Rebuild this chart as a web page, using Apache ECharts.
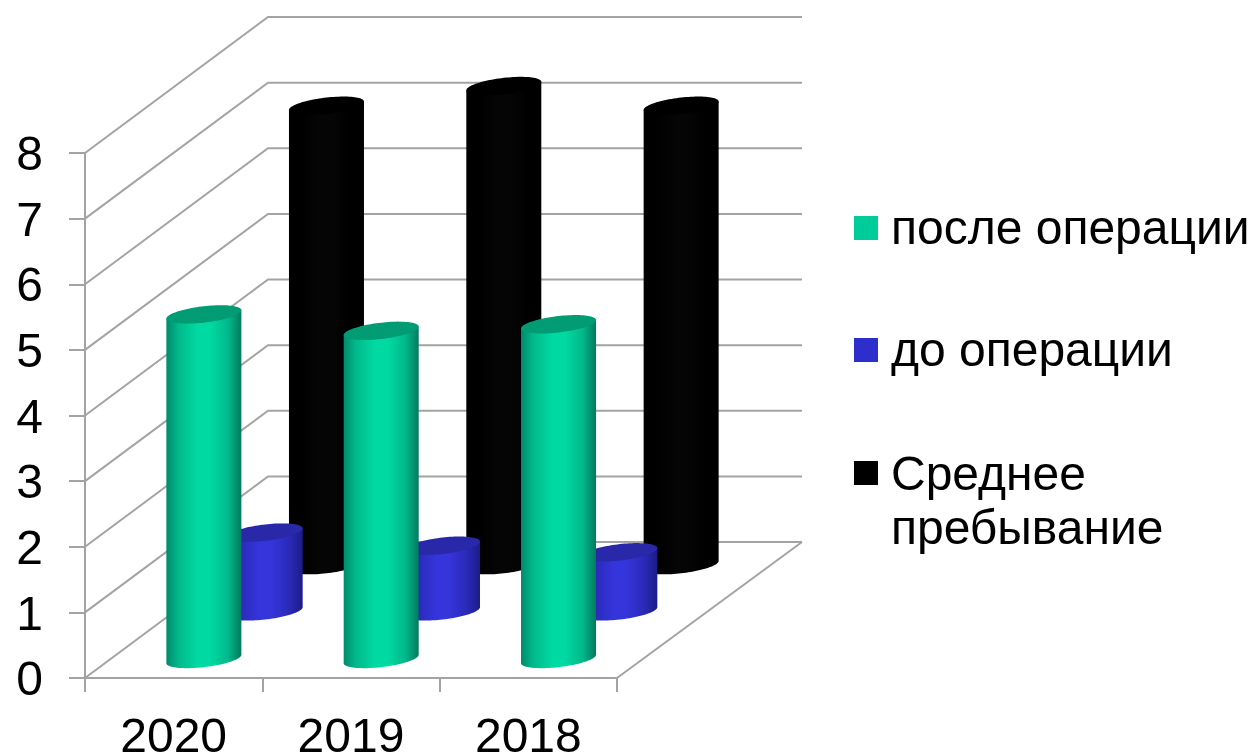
<!DOCTYPE html>
<html>
<head>
<meta charset="utf-8">
<style>html,body{margin:0;padding:0;background:#fff}#c{width:1254px;height:756px}</style>
<script src="https://cdn.jsdelivr.net/npm/echarts@6/dist/echarts.min.js"></script>
</head>
<body>
<div id="c"></div>
<script>
var categories = ['2020', '2019', '2018'];
var valueTicks = [0, 1, 2, 3, 4, 5, 6, 7, 8];
var afterSurgery = [5.25, 5.0, 5.1];
var beforeSurgery = [1.2, 1.0, 0.9];
var averageStay = [7.0, 7.3, 7.0];

var FONT = '"Liberation Sans", Arial, sans-serif';
var GRID = '#a3a3a3';
var DEPTH_X = 183, DEPTH_Y = -136;
var chart = echarts.init(document.getElementById('c'));

function wallItem(params, api) {
  var p = api.coord([0, api.value(1)]);
  var band = api.size([1, 0])[0];
  var x0 = p[0] - band / 2, y0 = p[1];
  var xEnd = x0 + band * 3 + DEPTH_X + 2;
  var style = { stroke: GRID, lineWidth: 2, fill: null };
  var children = [{
    type: 'polyline',
    shape: { points: [[x0, y0], [x0 + DEPTH_X, y0 + DEPTH_Y], [xEnd, y0 + DEPTH_Y]] },
    style: style
  }];
  if (api.value(1) === 0) {
    children.push({
      type: 'line',
      shape: { x1: x0 + band * 3, y1: y0, x2: xEnd, y2: y0 + DEPTH_Y },
      style: style
    });
  }
  return { type: 'group', children: children };
}

function cylinder(depthX, depthY, body, cap) {
  return function (params, api) {
    var i = api.value(0), v = api.value(1);
    var base = api.coord([i, 0]), top = api.coord([i, v]);
    var cx = base[0] + depthX * DEPTH_X;
    var by = base[1] + depthY * DEPTH_Y;
    var ty = top[1] + depthY * DEPTH_Y;
    var rx = 37.5, ry = 8.2, shear = -4.2 / 37.5;
    var pt = function (y, t) {
      return [cx + rx * Math.cos(t), y + shear * rx * Math.cos(t) + ry * Math.sin(t)];
    };
    var side = [], capPts = [], k, n = 48;
    side.push(pt(ty, 0));
    for (k = 0; k <= n; k++) side.push(pt(by, Math.PI * k / n));
    side.push(pt(ty, Math.PI));
    for (k = 0; k < n * 2; k++) capPts.push(pt(ty, Math.PI * k / n));
    return {
      type: 'group',
      children: [
        { type: 'polygon', shape: { points: side }, style: {
          fill: new echarts.graphic.LinearGradient(0, 0, 1, 0, body) } },
        { type: 'polygon', shape: { points: capPts }, style: { fill: cap } }
      ]
    };
  };
}

function stops(edgeL, mid, center, edgeR) {
  return [
    { offset: 0, color: edgeL }, { offset: 0.16, color: mid },
    { offset: 0.42, color: center }, { offset: 0.58, color: center },
    { offset: 0.82, color: mid }, { offset: 1, color: edgeR }
  ];
}

function row(values) { return values.map(function (v, i) { return [i, v]; }); }

function legendItem(name, top, itemHeight) {
  return {
    data: [name], orient: 'vertical', left: 854, top: top, padding: 0,
    selectedMode: false, itemWidth: 24, itemHeight: itemHeight,
    icon: 'path://M0 0H24V24H0ZM0 ' + itemHeight + 'L0 ' + itemHeight + 'L24 ' + itemHeight,
    symbolKeepAspect: false,
    textStyle: { fontFamily: FONT, fontSize: 48, color: '#000', lineHeight: 54, padding: [0, 0, 0, 8] }
  };
}

chart.setOption({
  animation: false,
  backgroundColor: '#fff',
  grid: { left: 85, top: 153, width: 532, height: 525, outerBoundsMode: 'none' },
  legend: [
    legendItem('после операции', 204, 30),
    legendItem('до операции', 326, 30),
    legendItem('Среднее\nпребывание', 450, 86)
  ],
  xAxis: {
    type: 'category', data: categories,
    axisLine: { lineStyle: { color: GRID, width: 2 } },
    axisTick: { show: true, length: 14, lineStyle: { color: GRID, width: 2 } },
    axisLabel: { fontFamily: FONT, fontSize: 48, color: '#000', margin: 37 }
  },
  yAxis: {
    type: 'value', min: 0, max: 8, interval: 1,
    splitLine: { show: false },
    axisLine: { show: true, lineStyle: { color: GRID, width: 2 } },
    axisTick: { show: true, length: 16, lineStyle: { color: GRID, width: 2 } },
    axisLabel: {
      color: '#000', margin: 42, formatter: '{a|{value}}',
      rich: { a: { fontFamily: FONT, fontSize: 48, color: '#000', padding: [8, 0, 0, 0] } }
    }
  },
  series: [
    { name: 'стены', type: 'custom', renderItem: wallItem, silent: true, z: 1,
      encode: { x: 0, y: 1 }, data: valueTicks.map(function (v) { return [0, v]; }) },
    { name: 'Среднее\nпребывание', type: 'custom', z: 2, encode: { x: 0, y: 1 },
      itemStyle: { color: '#000000' },
      renderItem: cylinder(0.835, 0.83, stops('#000', '#000', '#050505', '#000'), '#000'),
      data: row(averageStay) },
    { name: 'до операции', type: 'custom', z: 3, encode: { x: 0, y: 1 },
      itemStyle: { color: '#2E2ECC' },
      renderItem: cylinder(0.5, 0.49, stops('#1e1e90', '#2a2ab8', '#3535DC', '#1c1c88'), '#2828A8'),
      data: row(beforeSurgery) },
    { name: 'после операции', type: 'custom', z: 4, encode: { x: 0, y: 1 },
      itemStyle: { color: '#00CC99' },
      renderItem: cylinder(0.165, 0.14, stops('#018a6b', '#01b98b', '#00DAA2', '#017a5f'), '#019B74'),
      data: row(afterSurgery) }
  ]
});
</script>
</body>
</html>
